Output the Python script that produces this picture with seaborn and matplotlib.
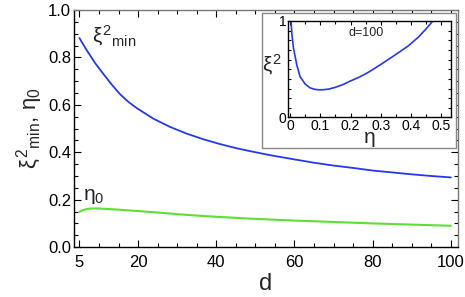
import numpy as np
import pandas as pd
import matplotlib
import matplotlib.pyplot as plt
import seaborn as sns
from matplotlib.patches import Rectangle

matplotlib.use("Agg")

# main panel: xi^2_min and eta_0 versus d
D_VALUES = [5, 6.9, 9.0, 11.1, 13.3, 15.4, 17.5, 19.7, 23.9, 28.2, 32.4, 36.7,
            40.9, 45.2, 49.5, 53.7, 60, 65, 70, 75, 80, 85, 90, 95, 100]
XI2_MIN = [0.882, 0.830, 0.777, 0.731, 0.685, 0.645, 0.613, 0.586, 0.542, 0.507,
           0.479, 0.455, 0.435, 0.417, 0.402, 0.388, 0.370, 0.356, 0.344, 0.334,
           0.323, 0.315, 0.307, 0.300, 0.294]
ETA_D = [5, 6, 7, 8, 10, 12, 15, 20, 25, 30, 35, 40, 50, 60, 70, 80, 90, 100]
ETA0 = [0.149, 0.157, 0.161, 0.163, 0.163, 0.161, 0.158, 0.152, 0.146, 0.139,
        0.133, 0.128, 0.119, 0.112, 0.106, 0.100, 0.095, 0.090]

# inset: xi^2 versus eta at d=100
INSET_ETA = [0.003, 0.006, 0.011, 0.022, 0.033, 0.05, 0.066, 0.08, 0.094, 0.11,
             0.127, 0.15, 0.176, 0.2, 0.23, 0.259, 0.3, 0.348, 0.39, 0.425,
             0.45, 0.472]
INSET_XI2 = [1.0, 0.86, 0.72, 0.546, 0.423, 0.346, 0.307, 0.293, 0.287, 0.288,
             0.294, 0.313, 0.343, 0.379, 0.42, 0.469, 0.55, 0.65, 0.74, 0.835,
             0.92, 1.0]

BLUE = "#2638ee"
GREEN = "#5ee032"

sns.set_style("ticks")
plt.rcParams["font.family"] = ["Liberation Sans", "DejaVu Sans"]
plt.rcParams["mathtext.fontset"] = "custom"
plt.rcParams["mathtext.rm"] = "Liberation Sans"
plt.rcParams["mathtext.it"] = "Liberation Sans"
plt.rcParams["mathtext.bf"] = "Liberation Sans:bold"


def style_ax(ax, major, minor):
    ax.tick_params(axis="both", which="both", direction="in", top=True, right=True,
                   colors="black", width=0.8)
    ax.tick_params(axis="both", which="major", length=major)
    ax.tick_params(axis="both", which="minor", length=minor)
    for spine in ax.spines.values():
        spine.set_linewidth(1.0)
        spine.set_color("black")
    ax.spines["top"].set_color("#777777")
    ax.spines["right"].set_color("#777777")


main_df = pd.DataFrame({"d": D_VALUES, "xi": XI2_MIN})
eta_df = pd.DataFrame({"d": ETA_D, "eta": ETA0})
inset_df = pd.DataFrame({"eta": INSET_ETA, "xi": INSET_XI2})

fig = plt.figure(figsize=(4.65, 2.97), dpi=100)
ax = fig.add_axes([0.159, 0.168, 0.825, 0.798])

sns.lineplot(data=main_df, x="d", y="xi", ax=ax, color=BLUE, linewidth=1.3)
sns.lineplot(data=eta_df, x="d", y="eta", ax=ax, color=GREEN, linewidth=1.5)

ax.set_xlim(3.6, 101.7)
ax.set_ylim(0, 1.0)
ax.set_xticks([5, 20, 40, 60, 80, 100])
ax.set_xticks(np.arange(10, 100, 5), minor=True)
ax.set_yticks([0.0, 0.2, 0.4, 0.6, 0.8, 1.0])
ax.set_yticklabels(["0.0", "0.2", "0.4", "0.6", "0.8", "1.0"])
ax.set_yticks(np.arange(0.05, 1.0, 0.05), minor=True)
ax.tick_params(labelsize=12)
ax.tick_params(axis="x", pad=6)
ax.tick_params(axis="y", pad=2)
style_ax(ax, 5, 3)

ax.set_xlabel("d", fontsize=17, labelpad=2)
ax.set_ylabel(r"$\xi^2{}_{\rm min}$, $\eta_0$", fontsize=16, labelpad=2)

ax.text(8.3, 0.84, r"$\xi^2{}_{\rm min}$", fontsize=15, ha="left", va="bottom")
ax.text(6.0, 0.175, r"$\eta_0$", fontsize=15, ha="left", va="bottom")

# grey frame around the inset
fig.patches.append(Rectangle((262 / 465, 1 - 148 / 297), 194 / 465, 135 / 297,
                             transform=fig.transFigure, facecolor="white",
                             edgecolor="#888888", linewidth=1.0, zorder=2))

ins = fig.add_axes([288 / 465, 1 - 117.5 / 297, 163 / 465, 96.5 / 297])
ins.set_zorder(3)
sns.lineplot(data=inset_df, x="eta", y="xi", ax=ins, color=BLUE, linewidth=1.2)
ins.set_xlim(-0.007, 0.532)
ins.set_ylim(0, 1.0)
ins.set_xticks([0, 0.1, 0.2, 0.3, 0.4, 0.5])
ins.set_xticklabels(["0", "0.1", "0.2", "0.3", "0.4", "0.5"])
ins.set_xticks(np.arange(0.05, 0.5, 0.05), minor=True)
ins.set_yticks([0, 1])
ins.set_yticklabels(["0", "1"])
ins.set_yticks(np.arange(0.1, 1.0, 0.1), minor=True)
ins.tick_params(labelsize=10, pad=1)
style_ax(ins, 3, 2)
for spine in ins.spines.values():
    spine.set_color("black")
ins.set_xlabel(r"$\eta$", fontsize=15, labelpad=-2)
ins.set_ylabel(r"$\xi^2$", fontsize=15, rotation=0, va="center", ha="center")
ins.yaxis.set_label_coords(-0.1, 0.55)
ins.text(0.25, 0.88, "d=100", fontsize=9, ha="center", va="center")

fig.savefig("out.png", dpi=100)
